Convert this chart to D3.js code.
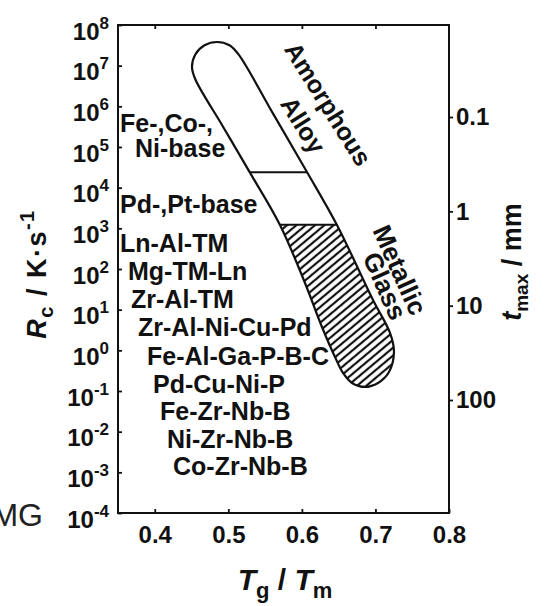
<!DOCTYPE html>
<html>
<head>
<meta charset="utf-8">
<script src="https://cdn.jsdelivr.net/npm/d3@7"></script>
<style>
body { margin: 0; background: #fff; }
text { font-family: "Liberation Sans", Arial, sans-serif; font-weight: bold; fill: #111; }
</style>
</head>
<body>
<script>
// data
var tgTicks = [0.4, 0.5, 0.6, 0.7, 0.8];
var rcExponents = [8, 7, 6, 5, 4, 3, 2, 1, 0, -1, -2, -3, -4];
var tmaxTicks = [0.1, 1, 10, 100];
var alloyLabels = ["Fe-,Co-,", "Ni-base", "Pd-,Pt-base", "Ln-Al-TM", "Mg-TM-Ln", "Zr-Al-TM",
    "Zr-Al-Ni-Cu-Pd", "Fe-Al-Ga-P-B-C", "Pd-Cu-Ni-P", "Fe-Zr-Nb-B", "Ni-Zr-Nb-B", "Co-Zr-Nb-B"];
// outline of the glass-forming band: Tg/Tm and log10(Rc)
var bandTg = [0.4551, 0.4506, 0.4551, 0.4676, 0.4846, 0.5016, 0.5141, 0.5606, 0.6069, 0.6477,
    0.6967, 0.7198, 0.7252, 0.7184, 0.7035, 0.6858, 0.6681, 0.6559, 0.6450, 0.6273,
    0.6042, 0.5702, 0.5294, 0.4922];
var bandLogRc = [6.665, 6.967, 7.275, 7.501, 7.582, 7.501, 7.270, 5.826, 4.386, 3.082,
    1.238, 0.427, -0.040, -0.532, -0.803, -0.901, -0.803, -0.557, -0.163, 0.574,
    1.656, 3.082, 4.370, 5.517];
var dividerLogRc = [4.38, 3.09];
var glassLimitLogRc = 3.09;

// layout
var W = 546, H = 606;
var m = {left: 118, right: 449, top: 25, bottom: 513};
var labelPos = [[120, 132], [135, 157], [120, 213], [120, 252], [128, 280], [131, 308],
    [138, 336], [147, 365], [153, 393], [160, 420], [167, 448], [173, 475]];

var svg = d3.select('body').append('svg')
    .attr('width', W)
    .attr('height', H);

var x = d3.scaleLinear().domain([0.35, 0.8]).range([m.left, m.right]);
var y = d3.scaleLog().domain([1e-4, 1e8]).range([m.bottom, m.top]);
var t = d3.scaleLog().domain([0.1, 100]).range([117, 400]);

var band = bandTg.map((d, i) => [d, Math.pow(10, bandLogRc[i])]);
var line = d3.line()
    .x(d => x(d[0]))
    .y(d => y(d[1]))
    .curve(d3.curveCatmullRomClosed.alpha(0.5));

var defs = svg.append('defs');
defs.append('clipPath').attr('id', 'bandClip')
    .append('path').attr('d', line(band));
var pat = defs.append('pattern')
    .attr('id', 'hatch')
    .attr('patternUnits', 'userSpaceOnUse')
    .attr('width', 6).attr('height', 6)
    .attr('patternTransform', 'rotate(-40)');
pat.append('line')
    .attr('x1', 0).attr('y1', 3).attr('x2', 6).attr('y2', 3)
    .attr('stroke', '#111').attr('stroke-width', 2.2);

var yGlass = y(Math.pow(10, glassLimitLogRc));

// hatched metallic glass part
svg.append('rect')
    .attr('clip-path', 'url(#bandClip)')
    .attr('x', m.left)
    .attr('y', yGlass)
    .attr('width', m.right - m.left)
    .attr('height', m.bottom - yGlass)
    .attr('fill', 'url(#hatch)');

svg.selectAll('.divider')
    .data(dividerLogRc)
    .enter()
    .append('line')
    .attr('class', 'divider')
    .attr('clip-path', 'url(#bandClip)')
    .attr('x1', m.left).attr('x2', m.right)
    .attr('y1', d => y(Math.pow(10, d)))
    .attr('y2', d => y(Math.pow(10, d)))
    .attr('stroke', '#111').attr('stroke-width', 2);

svg.append('path')
    .attr('d', line(band))
    .attr('fill', 'none')
    .attr('stroke', '#111')
    .attr('stroke-width', 2.2);

// frame
svg.append('rect')
    .attr('x', m.left).attr('y', m.top)
    .attr('width', m.right - m.left).attr('height', m.bottom - m.top)
    .attr('fill', 'none')
    .attr('stroke', '#111')
    .attr('stroke-width', 2);

function styleAxis(g) {
    g.select('.domain').remove();
    g.selectAll('line').attr('stroke', '#111').attr('stroke-width', 1.8);
    g.attr('font-family', null).attr('font-size', null);
}

// left axis, Rc
var yAxis = svg.append('g')
    .attr('transform', 'translate(' + m.left + ',0)')
    .call(d3.axisLeft(y)
        .tickValues(rcExponents.map(e => Math.pow(10, e)))
        .tickSize(-4)
        .tickPadding(9))
    .call(styleAxis);
yAxis.selectAll('text').each(function(d) {
    var e = Math.round(Math.log10(d));
    var s = d3.select(this).text(null)
        .attr('dy', null)
        .attr('y', 14)
        .style('font-size', '24px');
    s.append('tspan').text('10');
    s.append('tspan').attr('dy', -11).style('font-size', '17px').text(e);
});

// bottom axis
svg.append('g')
    .attr('transform', 'translate(0,' + m.bottom + ')')
    .call(d3.axisBottom(x)
        .tickValues(tgTicks)
        .tickSize(-4)
        .tickPadding(13)
        .tickFormat(d3.format('.1f')))
    .call(styleAxis)
    .selectAll('text').style('font-size', '24px');

// top ticks
svg.append('g')
    .attr('transform', 'translate(0,' + m.top + ')')
    .call(d3.axisTop(x)
        .tickValues(tgTicks.slice(0, 4))
        .tickSize(-4)
        .tickFormat(''))
    .call(styleAxis);

// right axis, tmax
svg.append('g')
    .attr('transform', 'translate(' + m.right + ',0)')
    .call(d3.axisRight(t)
        .tickValues(tmaxTicks)
        .tickSize(4)
        .tickPadding(3)
        .tickFormat(d => d3.format('')(d)))
    .call(styleAxis)
    .selectAll('text').style('font-size', '24px');

// alloy list
svg.selectAll('.alloy')
    .data(alloyLabels)
    .enter()
    .append('text')
    .attr('class', 'alloy')
    .attr('x', (d, i) => labelPos[i][0])
    .attr('y', (d, i) => labelPos[i][1])
    .style('font-size', '25px')
    .text(d => d);

// region names
function rotLabel(txt, cx, cy, ang, size) {
    svg.append('text')
        .attr('transform', 'translate(' + cx + ',' + cy + ') rotate(' + ang + ')')
        .attr('text-anchor', 'middle')
        .attr('dy', '0.35em')
        .style('font-size', size + 'px')
        .text(txt);
}
rotLabel('Amorphous', 328, 104, 58, 25);
rotLabel('Alloy', 303, 125, 58, 25);
rotLabel('Metallic', 400, 270, 66, 26);
rotLabel('Glass', 385, 286, 66, 26);

// axis titles
var xt = svg.append('text')
    .attr('x', 285).attr('y', 590)
    .attr('text-anchor', 'middle')
    .style('font-size', '30px');
xt.append('tspan').style('font-style', 'italic').text('T');
xt.append('tspan').attr('dy', 8).style('font-size', '22px').text('g');
xt.append('tspan').attr('dy', -8).text(' / ');
xt.append('tspan').style('font-style', 'italic').text('T');
xt.append('tspan').attr('dy', 8).style('font-size', '22px').text('m');

var yt = svg.append('text')
    .attr('transform', 'translate(46,274) rotate(-90)')
    .attr('text-anchor', 'middle')
    .style('font-size', '27px')
    .style('letter-spacing', '1.5px');
yt.append('tspan').style('font-style', 'italic').text('R');
yt.append('tspan').attr('dy', 7).style('font-size', '20px').text('c');
yt.append('tspan').attr('dy', -7).text(' / K·s');
yt.append('tspan').attr('dy', -12).style('font-size', '20px').text('-1');

var rt = svg.append('text')
    .attr('transform', 'translate(521,262) rotate(-90)')
    .attr('text-anchor', 'middle')
    .style('font-size', '27px');
rt.append('tspan').style('font-style', 'italic').text('t');
rt.append('tspan').attr('dy', 7).style('font-size', '19px').text('max');
rt.append('tspan').attr('dy', -7).text(' / mm');

// cut-off neighbour text
svg.append('text')
    .attr('x', 43).attr('y', 526)
    .attr('text-anchor', 'end')
    .style('font-weight', 'normal')
    .style('font-size', '32px')
    .style('fill', '#222')
    .text('MG');
</script>
</body>
</html>
